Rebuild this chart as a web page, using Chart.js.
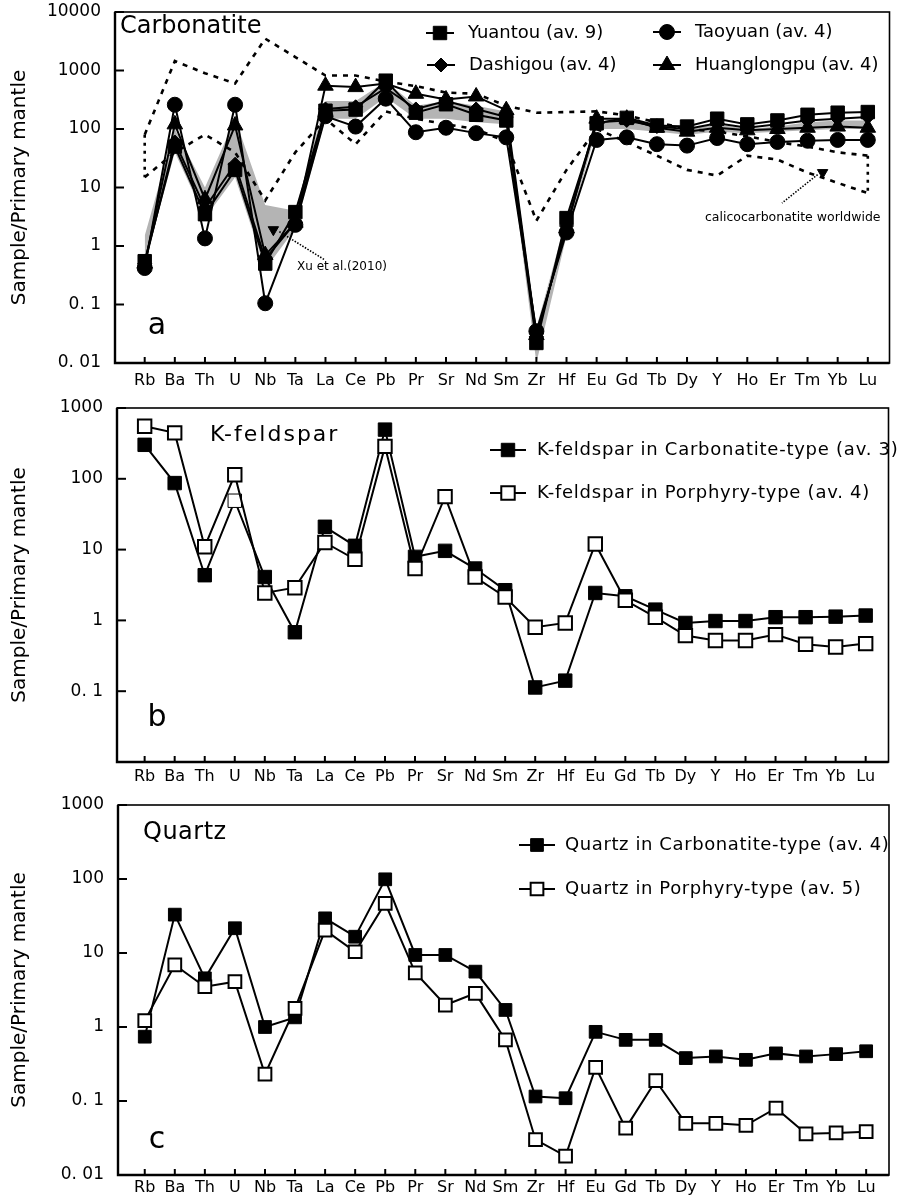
<!DOCTYPE html>
<html><head><meta charset="utf-8">
<script src="https://cdn.jsdelivr.net/npm/chart.js@4.4.0/dist/chart.umd.min.js"></script>
<style>
html,body{margin:0;padding:0;background:#fff;}
body{width:900px;height:1199px;position:relative;overflow:hidden;}
canvas{position:absolute;left:0;display:block;}
</style></head><body>
<canvas id="ca" width="900" height="393" style="top:0px"></canvas>
<canvas id="cb" width="900" height="397" style="top:393px"></canvas>
<canvas id="cc" width="900" height="409" style="top:790px"></canvas>
<script>
// ---------- data ----------
const elements = ['Rb','Ba','Th','U','Nb','Ta','La','Ce','Pb','Pr','Sr','Nd','Sm','Zr','Hf','Eu','Gd','Tb','Dy','Y','Ho','Er','Tm','Yb','Lu'];

// panel a: carbonatite
const yuantou     = [0.55, 50, 3.5, 20, 0.5, 3.8, 205, 215, 670, 190, 265, 175, 140, 0.022, 3.0, 125, 155, 115, 110, 150, 120, 140, 175, 190, 195];
const taoyuan     = [0.42, 260, 1.35, 260, 0.105, 2.3, 165, 110, 330, 88, 105, 85, 72, 0.035, 1.7, 65, 72, 55, 52, 70, 55, 60, 63, 65, 65];
const dashigou    = [0.5, 60, 4.5, 25, 0.6, 2.5, 220, 240, 500, 220, 300, 220, 160, 0.028, 2.2, 130, 140, 110, 100, 125, 105, 120, 140, 150, 160];
const huanglongpu = [0.5, 120, 6.3, 115, 0.7, 2.5, 550, 520, 600, 400, 320, 360, 210, 0.03, 2.0, 150, 150, 105, 90, 105, 95, 100, 105, 110, 105];
const bandUpper   = [1.5, 100, 10, 150, 5, 4, 300, 300, 650, 250, 300, 250, 200, 0.04, 3, 130, 150, 110, 100, 120, 100, 110, 130, 140, 140];
const bandLower   = [0.5, 40, 3, 15, 0.4, 2, 150, 150, 350, 150, 150, 130, 120, 0.01, 1.5, 100, 100, 90, 80, 90, 85, 90, 95, 100, 100];
const calcUpper   = [80, 1450, 900, 600, 3500, 1700, 820, 820, 650, 540, 420, 400, 250, 190, 195, 200, 170, 130, 100, 90, 75, 60, 50, 40, 35];
const calcLower   = [15, 40, 80, 40, 6, 40, 150, 55, 200, 150, 120, 100, 60, 2.7, 20, 100, 60, 35, 20, 16, 35, 30, 18, 12, 8];
const xuMarker    = [{x: 4.27, y: 1.9}];
const calcMarker  = [{x: 22.5, y: 18}];

// panel b: K-feldspar
const kfsCarb  = [302, 87, 4.35, 49, 4.1, 0.68, 21, 11.3, 495, 7.9, 9.6, 5.4, 2.67, 0.113, 0.141, 2.44, 2.19, 1.42, 0.92, 0.98, 0.98, 1.11, 1.11, 1.13, 1.17];
const kfsPorph = [552, 445, 11, 114, 2.44, 2.9, 12.6, 7.3, 287, 5.4, 56, 4.1, 2.14, 0.80, 0.92, 12.0, 1.92, 1.11, 0.61, 0.52, 0.52, 0.63, 0.46, 0.42, 0.47];

// panel c: quartz
const qzCarb  = [0.74, 33, 4.55, 21.6, 1.0, 1.35, 29.4, 16.6, 99, 9.4, 9.4, 5.6, 1.70, 0.115, 0.109, 0.86, 0.67, 0.67, 0.38, 0.40, 0.36, 0.44, 0.40, 0.43, 0.47];
const qzPorph = [1.22, 6.9, 3.5, 4.1, 0.23, 1.79, 20.4, 10.4, 47, 5.4, 1.98, 2.85, 0.67, 0.030, 0.018, 0.285, 0.043, 0.188, 0.050, 0.050, 0.047, 0.080, 0.036, 0.037, 0.0385];

const yTicksA = [0.01, 0.1, 1, 10, 100, 1000, 10000];
const yTicksB = [0.1, 1, 10, 100, 1000];
const yTicksC = [0.01, 0.1, 1, 10, 100, 1000];

// ---------- helpers ----------
const FONT = 'DejaVu Sans';
const P = arr => arr.map((v, i) => ({x: i, y: v}));
const fmt = v => v === 0.01 ? '0. 01' : (v === 0.1 ? '0. 1' : String(v));

const decor = {
  id: 'decor',
  afterDraw(chart, args, o) {
    const ctx = chart.ctx, ca = chart.chartArea;
    const xs = chart.scales.x, ys = chart.scales.y;
    ctx.save();
    ctx.strokeStyle = '#000'; ctx.fillStyle = '#000';
    ctx.lineWidth = 1.6;
    ctx.strokeRect(ca.left, ca.top, ca.right - ca.left, ca.bottom - ca.top);
    ctx.lineWidth = 2.4;
    ctx.beginPath(); ctx.moveTo(ca.left, ca.top); ctx.lineTo(ca.left, ca.bottom); ctx.lineTo(ca.right, ca.bottom); ctx.stroke();
    ctx.lineWidth = 2;
    ys.ticks.forEach(t => { const py = ys.getPixelForValue(t.value); ctx.beginPath(); ctx.moveTo(ca.left, py); ctx.lineTo(ca.left + 9, py); ctx.stroke(); });
    xs.ticks.forEach(t => { const px = xs.getPixelForValue(t.value); ctx.beginPath(); ctx.moveTo(px, ca.bottom); ctx.lineTo(px, ca.bottom - 6); ctx.stroke(); });
    // texts
    (o.texts || []).forEach(t => {
      ctx.font = t.font; ctx.textAlign = t.align || 'left'; ctx.textBaseline = 'middle';
      ctx.letterSpacing = t.ls || '0px';
      ctx.fillText(t.text, ca.left + t.dx, ca.top + t.dy);
    });
    ctx.letterSpacing = '0px';
    // leaders (from data point to text anchor)
    (o.leaders || []).forEach(l => {
      ctx.save(); ctx.setLineDash([1.5, 1.5]); ctx.lineWidth = 1.6;
      ctx.beginPath();
      ctx.moveTo(xs.getPixelForValue(l.from.x) + l.off[0], ys.getPixelForValue(l.from.y) + l.off[1]);
      ctx.lineTo(ca.left + l.to[0], ca.top + l.to[1]);
      ctx.stroke(); ctx.restore();
    });
    // legend
    if (o.legend) {
      const L = o.legend;
      L.items.forEach(it => {
        const ds = chart.data.datasets[it.ds];
        const cx = ca.left + it.dx, cy = ca.top + it.dy;
        ctx.lineWidth = 2; ctx.strokeStyle = '#000';
        ctx.beginPath(); ctx.moveTo(cx - L.half, cy); ctx.lineTo(cx + L.half, cy); ctx.stroke();
        ctx.fillStyle = ds.legendFill || ds.pointBackgroundColor;
        ctx.strokeStyle = '#000'; ctx.lineWidth = ds.pointBorderWidth || 1;
        Chart.helpers.drawPoint(ctx, {pointStyle: ds.pointStyle, radius: ds.pointRadius, rotation: ds.pointRotation || 0, borderWidth: ds.pointBorderWidth || 1}, cx, cy);
        ctx.fillStyle = '#000'; ctx.font = L.font; ctx.textAlign = 'left'; ctx.textBaseline = 'middle';
        ctx.letterSpacing = L.ls || '0px';
        ctx.fillText(ds.label, cx + L.textGap, cy);
        ctx.letterSpacing = '0px';
      });
    }
    ctx.restore();
  }
};

function series(label, data, style, radius, fill, order, extra) {
  return Object.assign({
    label, data: P(data), borderColor: '#000', borderWidth: 2,
    pointStyle: style, pointRadius: radius, pointHoverRadius: radius,
    pointBackgroundColor: fill, pointBorderColor: '#000', pointBorderWidth: fill === '#fff' ? 2 : 1,
    fill: false, tension: 0, order
  }, extra || {});
}

function makeChart(id, datasets, cfg) {
  return new Chart(document.getElementById(id), {
    type: 'line',
    data: {datasets},
    plugins: [decor],
    options: {
      responsive: false, animation: false, events: [],
      layout: {padding: {top: cfg.top, right: cfg.right, left: 0, bottom: 0}},
      plugins: {legend: {display: false}, tooltip: {enabled: false}, decor: cfg.decor},
      scales: {
        x: {
          type: 'linear', min: cfg.xmin, max: cfg.xmax,
          afterBuildTicks: s => { s.ticks = elements.map((_, i) => ({value: i})); },
          afterFit: s => { s.height = cfg.xh; s.paddingLeft = 0; s.paddingRight = 0; },
          ticks: {autoSkip: false, maxRotation: 0, minRotation: 0, padding: cfg.xpad, color: '#000',
                  font: {family: FONT, size: 16}, callback: v => elements[v]},
          grid: {display: false, drawTicks: false}, border: {display: false}
        },
        y: {
          type: 'logarithmic', min: cfg.ymin, max: cfg.ymax,
          afterBuildTicks: s => { s.ticks = cfg.yticks.map(v => ({value: v})); },
          afterFit: s => { s.width = cfg.left; s.paddingTop = 0; s.paddingBottom = 0; },
          ticks: {padding: 14, color: '#000', font: {family: FONT, size: 17}, callback: v => fmt(v)},
          grid: {display: false, drawTicks: false}, border: {display: false},
          title: {display: true, text: 'Sample/Primary mantle', color: '#000', font: {family: FONT, size: 20}, padding: {top: 8, bottom: 0}}
        }
      }
    }
  });
}

// ---------- panel a ----------
const dsA = [
  series('Yuantou (av. 9)', yuantou, 'rect', 9.5, '#000', 1),
  series('Taoyuan (av. 4)', taoyuan, 'circle', 7.5, '#000', 4),
  series('Dashigou (av. 4)', dashigou, 'rectRot', 7, '#000', 2),
  series('Huanglongpu (av. 4)', huanglongpu, 'triangle', 9, '#000', 3),
  {label: 'band-lo', data: P(bandLower), borderWidth: 0, borderColor: 'rgba(0,0,0,0)', pointRadius: 0, fill: false, order: 30},
  {label: 'band-hi', data: P(bandUpper), borderWidth: 0, borderColor: 'rgba(0,0,0,0)', pointRadius: 0, fill: '-1', backgroundColor: '#b4b4b4', order: 29},
  {label: 'calc-hi', data: P(calcUpper), borderColor: '#000', borderWidth: 2.6, borderDash: [5, 6], pointRadius: 0, fill: false, order: 10},
  {label: 'calc-lo', data: P(calcLower), borderColor: '#000', borderWidth: 2.6, borderDash: [5, 6], pointRadius: 0, fill: false, order: 10},
  {label: 'calc-l', data: [{x: 0, y: calcUpper[0]}, {x: 0, y: calcLower[0]}], borderColor: '#000', borderWidth: 2.6, borderDash: [3, 5], pointRadius: 0, fill: false, order: 10},
  {label: 'calc-r', data: [{x: 24, y: calcUpper[24]}, {x: 24, y: calcLower[24]}], borderColor: '#000', borderWidth: 2.6, borderDash: [3, 5], pointRadius: 0, fill: false, order: 10},
  {label: 'Xu', data: xuMarker, showLine: false, pointStyle: 'triangle', pointRotation: 180, pointRadius: 6, pointBackgroundColor: '#000', pointBorderColor: '#000', order: 5},
  {label: 'calcm', data: calcMarker, showLine: false, pointStyle: 'triangle', pointRotation: 180, pointRadius: 6, pointBackgroundColor: '#000', pointBorderColor: '#000', order: 5}
];
makeChart('ca', dsA, {
  top: 12, right: 3, left: 115, xh: 30, xpad: 8, xmin: -0.986, xmax: 24.72, ymin: 0.01, ymax: 10000, yticks: yTicksA,
  decor: {
    texts: [
      {text: 'Carbonatite', font: '24px "DejaVu Sans"', dx: 5, dy: 15},
      {text: 'a', font: '30px "DejaVu Sans"', dx: 42, dy: 314, align: 'center'},
      {text: 'Xu et al.(2010)', font: '12px "DejaVu Sans"', dx: 182, dy: 255},
      {text: 'calicocarbonatite worldwide', font: '12.5px "DejaVu Sans"', dx: 590, dy: 206}
    ],
    leaders: [
      {from: xuMarker[0], off: [6, 2], to: [210, 248]},
      {from: calcMarker[0], off: [-5, 2], to: [667, 191]}
    ],
    legend: {
      font: '18px "DejaVu Sans"', half: 14, textGap: 28,
      items: [{ds: 0, dx: 325, dy: 21}, {ds: 1, dx: 552, dy: 20}, {ds: 2, dx: 326, dy: 53}, {ds: 3, dx: 552, dy: 53}]
    }
  }
});

// ---------- panel b ----------
const dsB = [
  series('K-feldspar in Carbonatite-type (av. 3)', kfsCarb, 'rect', 9.5, '#000', 2,
         {pointBackgroundColor: c => c.dataIndex === 3 ? '#fff' : '#000', legendFill: '#000'}),
  series('K-feldspar in Porphyry-type (av. 4)', kfsPorph, 'rect', 9.5, '#fff', 1)
];
makeChart('cb', dsB, {
  top: 15, right: 2, left: 117, xh: 28, xpad: 5, xmin: -0.92, xmax: 24.76, ymin: 0.01, ymax: 1000, yticks: yTicksB,
  decor: {
    texts: [
      {text: 'K-feldspar', font: '22px "DejaVu Sans"', ls: '2px', dx: 93, dy: 27},
      {text: 'b', font: '30px "DejaVu Sans"', dx: 40, dy: 310, align: 'center'}
    ],
    legend: {
      font: '18px "DejaVu Sans"', ls: '0.75px', half: 18, textGap: 29,
      items: [{ds: 0, dx: 391, dy: 42}, {ds: 1, dx: 391, dy: 85}]
    }
  }
});

// ---------- panel c ----------
const dsC = [
  series('Quartz in Carbonatite-type (av. 4)', qzCarb, 'rect', 9, '#000', 2),
  series('Quartz in Porphyry-type (av. 5)', qzPorph, 'rect', 9, '#fff', 1)
];
makeChart('cc', dsC, {
  top: 15, right: 2, left: 118, xh: 24, xpad: 3, xmin: -0.89, xmax: 24.76, ymin: 0.01, ymax: 1000, yticks: yTicksC,
  decor: {
    texts: [
      {text: 'Quartz', font: '24px "DejaVu Sans"', ls: '0.5px', dx: 25, dy: 28},
      {text: 'c', font: '30px "DejaVu Sans"', dx: 39, dy: 335, align: 'center'}
    ],
    legend: {
      font: '18px "DejaVu Sans"', ls: '0.6px', half: 18, textGap: 28,
      items: [{ds: 0, dx: 419, dy: 40}, {ds: 1, dx: 419, dy: 84}]
    }
  }
});
</script>
</body></html>
